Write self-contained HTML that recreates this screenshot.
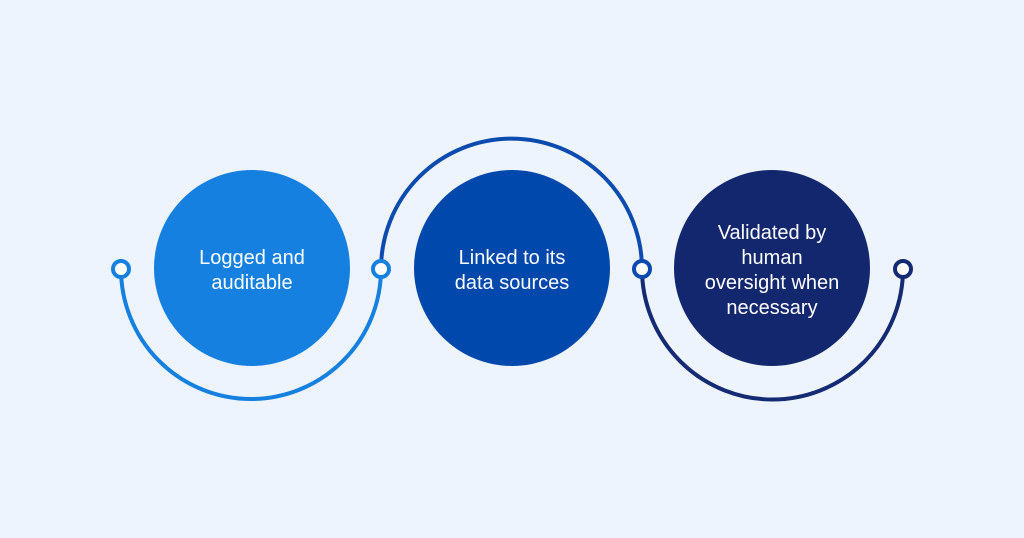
<!DOCTYPE html>
<html><head><meta charset="utf-8"><style>
html,body{margin:0;padding:0;width:1024px;height:538px;overflow:hidden;background:#edf4fd}
svg{display:block}
</style></head><body>
<svg width="1024" height="538" viewBox="0 0 1024 538" xmlns="http://www.w3.org/2000/svg">
<rect width="1024" height="538" fill="#edf4fd"/>
<g fill="none" stroke-width="4">
<path d="M121 269 A130 130 0 0 0 381 269" stroke="#1580e0"/>
<path d="M381 269 A130 130 0 0 1 642 269" stroke="#0b4bb0"/>
<path d="M642 269 A130 130 0 0 0 903 269" stroke="#142a72"/>
</g>
<circle cx="252" cy="268" r="98" fill="#1580e0"/>
<circle cx="512" cy="268" r="98" fill="#0148ac"/>
<circle cx="772" cy="268" r="98" fill="#13276e"/>
<g fill="#fff" stroke-width="4">
<circle cx="121" cy="269" r="8" stroke="#1580e0"/>
<circle cx="381" cy="269" r="8" stroke="#1580e0"/>
<circle cx="642" cy="269" r="8" stroke="#0b4bb0"/>
<circle cx="903" cy="269" r="8" stroke="#142a72"/>
</g>
<g fill="#fff" font-family="Liberation Sans, sans-serif" font-size="20" text-anchor="middle">
<text x="252" y="264">Logged and</text>
<text x="252" y="289">auditable</text>
<text x="512" y="264">Linked to its</text>
<text x="512" y="289">data sources</text>
<text x="772" y="239">Validated by</text>
<text x="772" y="264">human</text>
<text x="772" y="289">oversight when</text>
<text x="772" y="314">necessary</text>
</g>
</svg>
</body></html>
